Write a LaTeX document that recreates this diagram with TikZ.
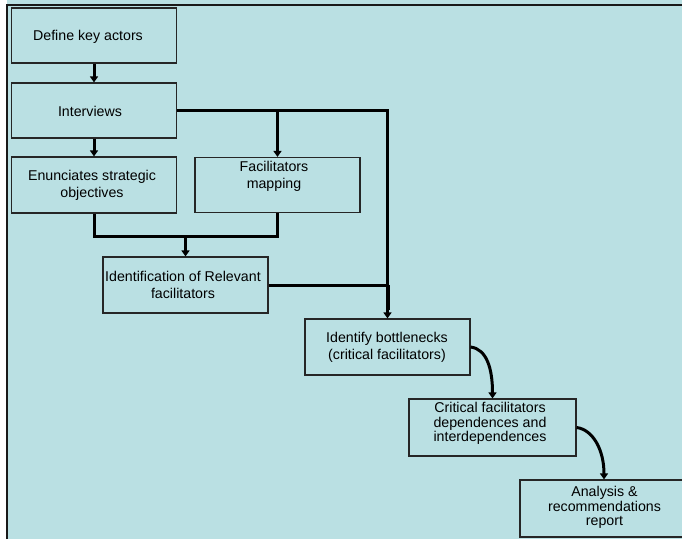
\documentclass[tikz,border=0pt]{standalone}
\usepackage{fontspec}
\setmainfont{Liberation Sans}
\usetikzlibrary{arrows.meta,calc}
\definecolor{bg}{RGB}{186,224,227}
\begin{document}
\begin{tikzpicture}[x=1pt,y=-1pt,
  box/.style={draw=black!85, line width=1.2pt, fill=bg, rectangle, inner sep=0pt,
              minimum width=165pt, minimum height=55pt},
  lbl/.style={align=center, inner sep=0pt, font=\fontsize{14.2}{17}\selectfont},
  tight/.style={font=\fontsize{14.2}{14.5}\selectfont},
  link/.style={line width=3pt, draw=black},
  flow/.style={link, -{Triangle[width=8pt,length=6pt]}},
]
\useasboundingbox (0,0) rectangle (682,539);
\clip (0,0) rectangle (682,539);
% page background and frame edges
\fill[white] (0,0) rectangle (682,539);
\fill[bg] (7,0) rectangle (682,539);
\draw[line width=2pt, black!90] (7,539) -- (7,5) -- (682,5);

% process boxes
\node[box] (dka) at (94,35.5) {};
\node[box] (itv) at (94,110.5) {};
\node[box, minimum height=56pt] (eso) at (94,185) {};
\node[box] (fm)  at (277.5,185) {};
\node[box, minimum height=56pt] (irf) at (185.5,285) {};
\node[box, minimum height=56pt] (ib)  at (387.5,347) {};
\node[box, minimum width=167pt, minimum height=57pt] (cf) at (492.5,427.5) {};
\node[box, minimum width=168pt, minimum height=57pt] (ar) at (604,508.5) {};

% box texts
\node[lbl] (dka-t) at (88,37) {Define key actors};
\node[lbl] (itv-t) at (90,111) {Interviews};
\node[lbl] (eso-t) at (92,185) {Enunciates strategic\\objectives};
\node[lbl] (fm-t)  at (274,176.5) {Facilitators\\mapping};
\node[lbl] (irf-t) at (183,284.5) {Identification of Relevant\\facilitators};
\node[lbl] (ib-t)  at (387,347) {Identify bottlenecks\\(critical facilitators)};
\node[lbl, tight] (cf-t) at (490,423.5) {Critical facilitators\\dependences and\\interdependences};
\node[lbl, tight] (ar-t) at (604.5,507.5) {Analysis \&\\recommendations\\report};

% connectors
\draw[flow] (dka.south) -- (itv.north);
\draw[flow] (itv.south) -- (eso.north);
\draw[flow] (itv.east) -| (ib.north);
\draw[flow] (fm.north |- itv.east) -- (fm.north);
\coordinate (bend) at ($(eso.south)+(0,23)$);
\draw[link] (eso.south) -- (bend) -| (fm.south);
\draw[flow] (irf.north |- bend) -- (irf.north);
\draw[link] (irf.east) -- (ib.north |- irf.east);
\draw[line width=4pt] ($(ib.north |- irf.east)$) -- ($(ib.north)+(0,-8)$);
\draw[flow] (ib.east) .. controls +(16,2) and +(0,-30) .. (cf.north);
\draw[flow] (cf.east) .. controls +(16,2) and +(0,-30) .. (ar.north);
\end{tikzpicture}
\end{document}
